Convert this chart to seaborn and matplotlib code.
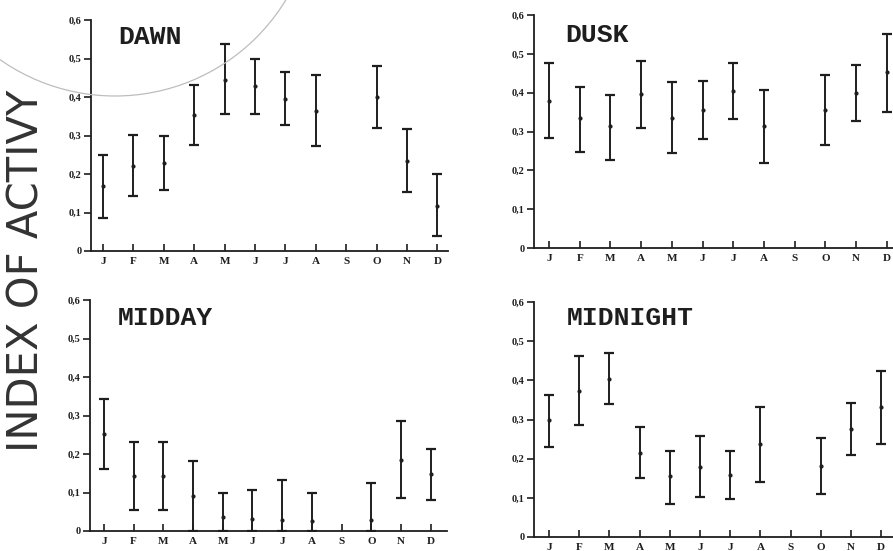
import numpy as np
import matplotlib
matplotlib.use("Agg")
import matplotlib.pyplot as plt
import seaborn as sns
from matplotlib.patches import Arc

sns.set_theme(style="white")
plt.rcParams['font.family'] = ['Liberation Serif', 'DejaVu Serif']

months = ["J", "F", "M", "A", "M", "J", "J", "A", "S", "O", "N", "D"]
yticks = [0, 0.1, 0.2, 0.3, 0.4, 0.5, 0.6]
ytick_labels = ["0", "0,1", "0,2", "0,3", "0,4", "0,5", "0,6"]
ylabel_text = "INDEX OF ACTIVY"

nan = np.nan
dawn_mean = [0.168, 0.222, 0.229, 0.352, 0.445, 0.428, 0.395, 0.363, nan, 0.399, 0.235, 0.118]
dawn_lo = [0.086, 0.143, 0.159, 0.276, 0.356, 0.356, 0.327, 0.272, nan, 0.320, 0.154, 0.039]
dawn_hi = [0.249, 0.302, 0.300, 0.430, 0.538, 0.500, 0.465, 0.457, nan, 0.480, 0.317, 0.200]

dusk_mean = [0.379, 0.334, 0.313, 0.397, 0.336, 0.356, 0.404, 0.315, nan, 0.356, 0.398, 0.452]
dusk_lo = [0.284, 0.248, 0.227, 0.310, 0.244, 0.280, 0.332, 0.218, nan, 0.264, 0.326, 0.350]
dusk_hi = [0.476, 0.415, 0.395, 0.482, 0.427, 0.430, 0.477, 0.407, nan, 0.445, 0.471, 0.550]

midday_mean = [0.252, 0.144, 0.144, 0.091, 0.036, 0.032, 0.029, 0.026, nan, 0.029, 0.184, 0.147]
midday_lo = [0.160, 0.054, 0.054, 0.0, 0.0, 0.0, 0.0, 0.0, nan, 0.0, 0.085, 0.080]
midday_hi = [0.343, 0.232, 0.232, 0.181, 0.099, 0.107, 0.132, 0.098, nan, 0.125, 0.285, 0.212]

midnight_mean = [0.298, 0.374, 0.403, 0.214, 0.155, 0.180, 0.159, 0.237, nan, 0.181, 0.277, 0.332]
midnight_lo = [0.230, 0.285, 0.340, 0.150, 0.085, 0.102, 0.096, 0.141, nan, 0.109, 0.210, 0.237]
midnight_hi = [0.362, 0.463, 0.469, 0.281, 0.220, 0.257, 0.219, 0.333, nan, 0.252, 0.342, 0.424]

W, H = 893, 551
fig = plt.figure(figsize=(W / 100, H / 100), dpi=100)
fig.patch.set_facecolor("white")


def px_axes(left, right, top, bottom):
    return fig.add_axes([left / W, 1 - bottom / H, (right - left) / W, (bottom - top) / H])


panels = [
    ("DAWN", dawn_mean, dawn_lo, dawn_hi, (91, 448, 20, 251), (-0.395, 11.35), (0.076, 0.896)),
    ("DUSK", dusk_mean, dusk_lo, dusk_hi, (534, 900, 15, 248), (-0.49, 11.43), (0.085, 0.884)),
    ("MIDDAY", midday_mean, midday_lo, midday_hi, (90, 447, 300, 531), (-0.47, 11.55), (0.078, 0.892)),
    ("MIDNIGHT", midnight_mean, midnight_lo, midnight_hi, (534, 900, 302, 537), (-0.50, 11.62), (0.09, 0.902)),
]

ink = "#1e1e1e"
for title, mean, lo, hi, box, xl, tpos in panels:
    ax = px_axes(*box)
    ax.set_facecolor("none")
    x = np.arange(12)
    m = np.array(mean, dtype=float)
    l = np.array(lo, dtype=float)
    h = np.array(hi, dtype=float)
    ok = ~np.isnan(m)
    ax.errorbar(x[ok], m[ok], yerr=[m[ok] - l[ok], h[ok] - m[ok]], fmt="none",
                ecolor=ink, elinewidth=1.4, capsize=3.7, capthick=1.6, zorder=3)
    sns.scatterplot(x=x[ok], y=m[ok], ax=ax, color=ink, s=9, linewidth=0, zorder=4)
    ax.set_xlim(*xl)
    ax.set_ylim(0, 0.6)
    ax.set_xticks(x)
    ax.set_xticklabels(months, fontsize=8, fontweight="bold", color=ink)
    ax.set_yticks(yticks)
    ax.set_yticklabels(ytick_labels, fontsize=7.5, fontweight="bold", color=ink)
    ax.tick_params(axis="x", direction="in", length=5, width=1.2, color=ink, pad=4, bottom=True)
    ax.tick_params(axis="y", direction="out", length=5, width=1.2, color=ink, pad=2, left=True)
    for s in ["top", "right"]:
        ax.spines[s].set_visible(False)
    for s in ["left", "bottom"]:
        ax.spines[s].set_color(ink)
        ax.spines[s].set_linewidth(1.3)
    ax.text(tpos[0], tpos[1], title, transform=ax.transAxes, fontsize=19, fontweight="bold",
            family=["Liberation Mono", "DejaVu Sans Mono"], color=ink, va="baseline", ha="left")

fig.text(27 / W, 1 - 271 / H, ylabel_text, rotation=90, fontsize=30, color="#333333",
         family=["DejaVu Sans"], ha="center", va="center")

# faint scanned arc at the top left
arc = Arc((115 / W, 1 - (-104) / H), 2 * 200 / W, 2 * 200 / H, theta1=180, theta2=360,
          transform=fig.transFigure, color="#bdbdbd", lw=0.9)
fig.add_artist(arc)

fig.savefig("out.png", dpi=100, facecolor="white")
